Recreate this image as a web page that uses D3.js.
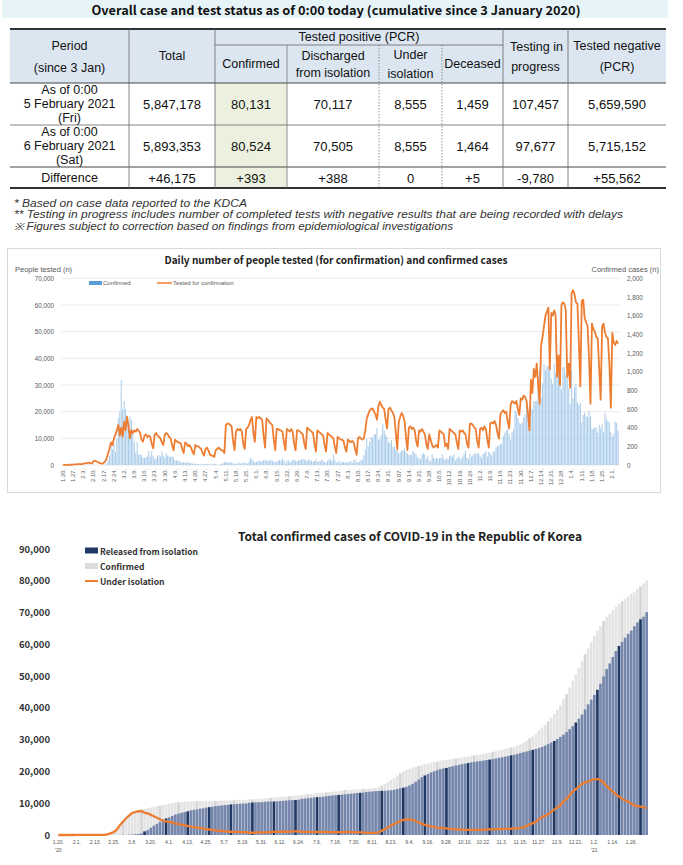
<!DOCTYPE html>
<html>
<head>
<meta charset="utf-8">
<script src="https://cdn.jsdelivr.net/npm/d3@7"></script>
<style>
body { margin: 0; background: #fff; }
svg { display: block; font-family: "Noto Sans CJK KR", "Noto Sans", sans-serif; }
</style>
</head>
<body>
<svg id="page" width="683" height="865"></svg>
<script>
// ---------------- table data ----------------
const tableTitle = "Overall case and test status as of 0:00 today (cumulative since 3 January 2020)";
const rowLabels = [["As of 0:00", "5 February 2021", "(Fri)"], ["As of 0:00", "6 February 2021", "(Sat)"], ["Difference"]];
const rowFeb5 = ["5,847,178", "80,131", "70,117", "8,555", "1,459", "107,457", "5,659,590"];
const rowFeb6 = ["5,893,353", "80,524", "70,505", "8,555", "1,464", "97,677", "5,715,152"];
const rowDiff = ["+46,175", "+393", "+388", "0", "+5", "-9,780", "+55,562"];
const footnotes = [
    " * Based on case data reported to the KDCA",
    "** Testing in progress includes number of completed tests with negative results that are being recorded with delays",
    " ※ Figures subject to correction based on findings from epidemiological investigations"
];

// ---------------- chart 1: daily, 2020-01-20 .. 2021-02-05 (one row per week, Mon..Sun) ----------------
const dailyConfirmed = [
    1,0,0,0,1,0,1, 1,0,0,2,5,1,3, 0,1,2,5,1,0,3, 0,1,0,0,0,0,1,
    1,1,20,53,100,229,169, 231,144,284,505,571,909,595, 686,600,516,438,518,483,367,
    248,131,242,114,110,107,76, 74,84,93,152,87,147,98, 64,76,100,104,91,146,105,
    78,125,101,89,86,94,81, 47,47,53,39,27,30,32, 25,27,27,22,22,18,8,
    13,9,11,8,6,10,10, 10,14,9,4,9,6,13, 8,3,2,4,12,18,34,
    35,27,26,29,27,19,13, 15,13,32,12,20,23,25, 16,19,40,79,58,39,27,
    35,38,49,39,39,51,57, 38,50,45,56,48,34,37, 34,43,59,49,67,48,17,
    46,51,28,39,51,62,42, 42,51,54,63,63,61,48, 44,62,50,45,35,44,62,
    33,39,39,60,39,34,26, 45,63,59,41,113,58,25, 28,48,18,36,31,30,23,
    34,33,43,20,54,56,28, 28,34,54,56,103,166,279, 197,246,297,288,324,332,397,
    266,280,320,441,371,323,299, 248,235,267,195,198,168,167, 119,136,156,155,176,136,121,
    109,106,113,153,126,110,82, 70,61,110,125,114,61,95, 50,38,113,77,63,75,64,
    73,75,114,69,54,72,58, 98,102,84,110,47,73,91, 76,58,89,121,155,77,61,
    119,88,103,125,114,127,124, 97,75,118,125,145,89,143, 126,100,146,143,191,205,208,
    223,230,313,343,363,386,330, 271,349,382,583,569,503,450, 438,451,511,540,629,583,631,
    615,594,686,682,689,950,1030, 718,880,1078,1014,1064,1060,1070, 926,869,1080,985,1080,1070,970,
    808,1045,1050,967,1029,824,657, 1020,714,838,869,674,641,665, 451,537,561,524,513,580,520,
    389,386,404,400,346,431,392, 437,349,559,497,469,458,355, 305,336,467,451,370
];

const dailyTested = [
    20,40,60,80,100,90,120, 150,200,250,300,350,300,350, 500,600,700,800,900,700,600,
    1500,1600,1300,1000,800,600,500, 800,1400,2500,4500,6300,8500,7500,
    10000,11500,13000,15000,11000,14000,10600, 16250,13000,18100,14500,10000,13100,12000,
    13000,12500,13500,12800,12000,9500,8750, 11000,11500,10500,11000,10500,8000,6250,
    11500,12000,11000,10500,10000,8500,7500, 11500,12000,11500,10500,10000,7500,5500,
    9500,9000,8500,8500,8000,6000,4500, 8500,8000,7000,7500,6500,5000,4000,
    7500,7000,7000,6500,6000,4500,3500, 6000,6500,5500,4000,3500,3500,3000,
    5500,6000,6500,6000,5500,5500,4500, 15000,15500,15500,15000,14500,9000,5600,
    12500,13500,13000,13500,12500,8000,6000, 13500,14000,15000,17000,18000,12000,8700,
    18000,17500,18000,17500,17000,11000,6500, 17500,17000,16000,15500,15000,9500,5600,
    13500,13500,13000,13000,12500,8500,5600, 13500,13000,12500,13500,12500,8000,5500,
    13000,13000,12500,12000,11500,8000,6000, 14000,13500,13000,12500,12000,8000,5000,
    13000,12500,12000,11500,11000,7500,5000, 12000,11500,11000,10500,10000,7000,4500,
    10500,10000,9500,9500,9000,6500,5000, 9500,9000,8500,9000,8500,6000,3800,
    10000,10500,10000,9500,10000,13000,17500, 19000,20500,21000,21250,20000,19000,17000,
    22000,23750,22500,21500,21000,17000,13750, 21000,21500,20500,19500,18000,12000,6000,
    16000,18000,19500,18500,16500,10500,5600, 14000,14500,13500,14000,13000,9000,6900,
    13000,12500,13500,12500,11500,8000,6000, 11500,9500,7500,6500,7000,7500,6500,
    13000,12500,12000,11500,7000,8000,6000, 13500,13000,12500,12000,11500,8500,6000,
    13000,12500,13000,12000,11500,8000,6500, 15500,15500,15000,14000,13500,9000,6500,
    13500,14000,13000,14500,13500,9500,6500, 15500,16000,15500,16500,15000,12000,9900,
    19000,20000,20500,19500,20000,16500,13750, 22500,24000,23500,23000,24000,21000,18750,
    25000,24500,26000,25500,24000,19000,13000, 32000,27000,36000,33000,38000,30000,23000,
    45000,48000,52000,56000,57500,59000,36000, 57000,56000,58000,56000,33000,41000,30000,
    60000,61000,60500,58000,33000,38000,29000, 64500,65500,64000,61000,60500,46000,29500,
    61500,62000,55000,53500,52000,40000,23000, 53000,51000,50000,48000,47500,36000,24500,
    52000,53000,49500,48000,47500,38000,21500, 49500,46000,45000,46500,45500
];

const weekTicks1 = ["1.20.","1.27.","2.3.","2.10.","2.17.","2.24.","3.2.","3.9.","3.16.","3.23.","3.30.",
    "4.6.","4.13.","4.20.","4.27.","5.4.","5.11.","5.18.","5.25.","6.1.","6.8.","6.15.","6.22.","6.29.",
    "7.6.","7.13.","7.20.","7.27.","8.3.","8.10.","8.17.","8.24.","8.31.","9.07.","9.14.","9.21.","9.28.",
    "10.5.","10.12.","10.19.","10.26.","11.2.","11.9.","11.16.","11.23.","11.30.","12.7.","12.14.","12.21.",
    "12.28.","1.4.","1.11.","1.18.","1.25.","2.1."];

// ---------------- chart 2: every second day, 2020-01-20 .. 2021-02-05 ----------------
const totalConfirmed = [
    1,1,2,3,4,6,12,15,18,24,27,28, 28,28,30,51,204,602,977,1766,3150,4212,5328,6284,
    7134,7513,7869,8086,8236,8413,8652,8897,9037,9241,9478,9661, 9887,10062,10237,10331,10423,10480,10537,10591,10635,10661,10683,10702,
    10718,10738,10761,10774,10793,10806,10810,10840,10909,10962,10991,11037, 11065,11110,11165,11206,11265,11402,11468,11541,11629,11719,11814,11902,
    12003,12085,12155,12257,12373,12438,12535,12602,12715,12800,12904,13030, 13137,13244,13338,13417,13512,13612,13711,13771,13879,14092,14175,14203,
    14269,14336,14389,14456,14519,14626,14660,14770,15039,15515,16058,16670, 17399,17945,18706,19400,19947,20449,20842,21177,21432,21743,22055,22285,
    22504,22783,22975,23106,23341,23516,23611,23812,23952,24091,24239,24422, 24548,24703,24889,25035,25199,25333,25543,25775,25955,26146,26385,26635,
    26807,27050,27284,27553,27799,28133,28546,28998,29654,30403,31004,31735, 32887,33824,34652,35703,36915,38161,39432,40786,42766,44364,46453,48570,
    50591,52550,54770,56872,58725,60740,62593,64264,65818,67358,68664,69651, 70728,71820,72729,73518,74262,75084,75870,76429,77395,78205,79200,80131
];
const releasedTotal = [
    0,0,0,0,0,0,0,0,2,2,3,4, 7,9,10,12,16,18,22,22,27,31,41,108,
    130,247,333,510,1137,1540,2233,2909,3507,4144,4811,5228, 5567,6021,6463,6694,6973,7243,7447,7757,7937,8042,8277,8411,
    8635,8764,8922,9072,9183,9283,9419,9484,9632,9695,9762,9851, 9904,9938,10135,10226,10275,10317,10340,10446,10506,10531,10552,10611,
    10718,10762,10856,10930,10970,11009,11109,11364,11476,11537,11684,11811, 11914,11970,12065,12204,12348,12422,12519,12610,12698,12817,12929,13007,
    13059,13233,13280,13352,13517,13642,13715,13817,13863,13901,13911,14006, 14063,14219,14461,14714,14900,15200,15600,16100,16750,17450,18200,18750,
    19200,19700,20050,20400,20700,20950,21100,21400,21650,21850,22050,22300, 22470,22650,22860,23000,23150,23270,23420,23590,23730,23880,24080,24300,
    24450,24650,24850,25080,25270,25520,25800,26050,26300,26550,26800,27050, 27350,27700,28100,28600,29100,29600,30200,30900,31600,32400,33300,34300,
    35400,36600,37900,39500,41100,42600,44100,45700,47600,49900,52200,54000, 56000,57900,59500,60800,62100,63300,64300,65700,66900,67900,68700,70117
];
const underIsolation = [
    1,1,2,3,4,6,12,15,16,22,24,24, 21,19,20,39,186,579,945,1731,3106,4159,5255,6134,
    6954,7212,7470,7504,7024,6789,6325,5884,5410,4966,4523,4275, 4155,3867,3591,3445,3246,3026,2873,2605,2466,2385,2169,2051,
    1843,1730,1593,1454,1360,1267,1135,1101,1021,1008,969,924, 898,909,764,711,721,816,857,823,850,915,989,1018,
    1008,1046,1019,1047,1122,1149,1144,956,956,981,936,936, 940,989,985,925,875,903,899,865,885,976,947,894,
    910,801,807,798,698,678,640,647,870,1309,1836,2350, 3018,3411,3932,4369,4724,4920,4906,4740,4340,3950,3500,3170,
    2940,2700,2530,2320,2250,2170,2100,2000,1880,1810,1760,1690, 1640,1610,1580,1590,1600,1610,1660,1720,1760,1800,1840,1870,
    1890,1920,1950,1990,2040,2110,2240,2440,2850,3340,3690,4170, 5000,5600,6025,6570,7270,7990,8680,9310,10580,11360,12520,13610,
    14480,15200,16090,16570,16780,17230,17560,17580,17200,16460,15400,14570, 13620,12800,12060,11470,10880,10460,9920,9340,9090,8900,8700,8555
];
const tickLabels2 = ["1.20.","2.1.","2.13.","2.25.","3.8.","3.20.","4.1.","4.13.","4.25.","5.7.","5.19.","5.31.",
    "6.12.","6.24.","7.6.","7.18.","7.30.","8.11.","8.23.","9.4.","9.16.","9.28.","10.10.","10.22.","11.3.",
    "11.15.","11.27.","12.9.","12.21.","1.2.","1.14.","1.26."];
const yearLabels2 = {"1.20.": "'20", "1.2.": "'21"};

const page = d3.select("#page");
const SANS = "'Liberation Sans', Arial, sans-serif";

function label(g, x, y, s, size, opts) {
    opts = opts || {};
    let t = g.append("text")
        .attr("x", x).attr("y", y)
        .attr("text-anchor", opts.anchor || "middle")
        .attr("dominant-baseline", "central")
        .attr("font-size", size)
        .attr("font-weight", opts.weight || "normal")
        .attr("fill", opts.fill || "#111")
        .text(s);
    if (opts.font) t.attr("font-family", opts.font);
    if (opts.italic) t.attr("font-style", "italic");
    if (opts.len) t.attr("textLength", opts.len).attr("lengthAdjust", "spacingAndGlyphs");
    return t;
}

// ================= table =================
const tbl = page.append("g");
tbl.append("rect").attr("x", 2).attr("y", 0).attr("width", 666).attr("height", 18).attr("fill", "#e6f3f7");
label(tbl, 336, 9, tableTitle, 12.5, {weight: "bold", len: 489});

const colX = [10, 129, 215, 287, 379, 442, 503, 568, 666];
const mid = i => (colX[i] + colX[i + 1]) / 2;
const yTop = 29, yHead1 = 45, yHead2 = 83, yRow1 = 125, yRow2 = 167, yBot = 188;

tbl.append("rect").attr("x", colX[0]).attr("y", yTop).attr("width", colX[8] - colX[0]).attr("height", yHead2 - yTop).attr("fill", "#dce6f1");
tbl.append("rect").attr("x", colX[2]).attr("y", yHead2).attr("width", colX[3] - colX[2]).attr("height", yBot - yHead2).attr("fill", "#ebf1de");

// lines
[[yTop, 1.8, "#333"], [yHead2, 1, "#444"], [yRow1, 0.8, "#666"], [yRow2, 1, "#444"], [yBot, 1.8, "#333"]].forEach(([y, w, c]) => {
    tbl.append("line").attr("x1", colX[0]).attr("x2", colX[8]).attr("y1", y).attr("y2", y).attr("stroke", c).attr("stroke-width", w);
});
tbl.append("line").attr("x1", colX[2]).attr("x2", colX[6]).attr("y1", yHead1).attr("y2", yHead1).attr("stroke", "#666").attr("stroke-width", 0.8);
[1, 2, 6, 7].forEach(i => {
    tbl.append("line").attr("x1", colX[i]).attr("x2", colX[i]).attr("y1", yTop).attr("y2", yBot).attr("stroke", "#666").attr("stroke-width", 0.8);
});
tbl.append("line").attr("x1", colX[3]).attr("x2", colX[3]).attr("y1", yHead1).attr("y2", yBot).attr("stroke", "#777").attr("stroke-width", 0.8);
[4, 5].forEach(i => {
    tbl.append("line").attr("x1", colX[i]).attr("x2", colX[i]).attr("y1", yHead1).attr("y2", yBot)
        .attr("stroke", "#777").attr("stroke-width", 0.8).attr("stroke-dasharray", "1.5,1.5");
});

// header text
const hd = {font: SANS};
label(tbl, mid(0), 46, "Period", 12.5, hd);
label(tbl, mid(0), 68, "(since 3 Jan)", 12.5, hd);
label(tbl, mid(1), 56, "Total", 12.5, hd);
label(tbl, (colX[2] + colX[6]) / 2, 37, "Tested positive (PCR)", 12.5, hd);
label(tbl, mid(2), 64, "Confirmed", 12.5, hd);
label(tbl, mid(3), 56, "Discharged", 12.5, hd);
label(tbl, mid(3), 73, "from isolation", 12.5, hd);
label(tbl, mid(4), 55, "Under", 12.5, hd);
label(tbl, mid(4), 74, "isolation", 12.5, hd);
label(tbl, mid(5), 64, "Deceased", 12.5, hd);
label(tbl, mid(6) + 1, 47, "Testing in", 12.5, hd);
label(tbl, mid(6), 67, "progress", 12.5, hd);
label(tbl, mid(7), 46, "Tested negative", 12.5, hd);
label(tbl, mid(7), 67, "(PCR)", 12.5, hd);

// body
const rowsY = [[90, 104, 118], [132, 146, 160], [178]];
[rowFeb5, rowFeb6, rowDiff].forEach((vals, r) => {
    rowLabels[r].forEach((s, k) => label(tbl, mid(0), rowsY[r][k], s, 12.5, hd));
    const vy = rowsY[r][Math.floor(rowsY[r].length / 2)];
    vals.forEach((v, c) => label(tbl, mid(c + 1), vy, v, 13, hd));
});

// footnotes
const footLen = [233, 609, 439];
footnotes.forEach((f, i) => {
    label(page, 14, 203 + i * 11.7, f, 10, {anchor: "start", italic: true, fill: "#333", len: footLen[i], font: SANS});
});

// ================= chart 1 =================
const c1 = page.append("g");
c1.append("rect").attr("x", 7.5).attr("y", 248.5).attr("width", 653).attr("height", 244)
    .attr("fill", "none").attr("stroke", "#d9d9d9");

const x1 = d3.scaleBand().domain(d3.range(dailyTested.length)).range([62.6, 618.6]).paddingInner(0.3);
const yTested = d3.scaleLinear().domain([0, 70000]).range([465, 278.3]);
const yConf = d3.scaleLinear().domain([0, 2000]).range([465, 278.3]);

c1.append("g").selectAll("line").data(yTested.ticks(7)).join("line")
    .attr("x1", 61.5).attr("x2", 620).attr("y1", d => yTested(d)).attr("y2", d => yTested(d))
    .attr("stroke", "#e4e4e4").attr("stroke-width", 0.8);

c1.append("g").selectAll("rect").data(dailyConfirmed).join("rect")
    .attr("x", (d, i) => x1(i)).attr("width", x1.bandwidth())
    .attr("y", d => yConf(d)).attr("height", d => yConf(0) - yConf(d))
    .attr("fill", "#a8cbea");

c1.append("path").datum(dailyTested)
    .attr("d", d3.line().x((d, i) => x1(i) + x1.bandwidth() / 2).y(d => yTested(d)))
    .attr("fill", "none").attr("stroke", "#ed7d31").attr("stroke-width", 1.8).attr("stroke-linejoin", "round");

const leftAxis = c1.append("g").attr("transform", "translate(54,0)")
    .call(d3.axisLeft(yTested).ticks(7).tickFormat(d3.format(",")).tickSize(0).tickPadding(0));
const rightAxis = c1.append("g").attr("transform", "translate(627,0)")
    .call(d3.axisRight(yConf).ticks(10).tickFormat(d3.format(",")).tickSize(0).tickPadding(0));
const bottomAxis = c1.append("g").attr("transform", "translate(0,467)")
    .call(d3.axisBottom(x1).tickValues(d3.range(0, dailyTested.length, 7)).tickFormat((d, i) => weekTicks1[i]).tickSize(0));
[leftAxis, rightAxis, bottomAxis].forEach(a => {
    a.select(".domain").remove();
    a.selectAll("text").attr("fill", "#595959").attr("font-size", 6.3).attr("font-family", SANS);
});
bottomAxis.selectAll("text").attr("transform", "rotate(-90)").attr("text-anchor", "end")
    .attr("x", -2).attr("y", 0).attr("dy", "0.32em").attr("font-size", 5.8);

label(c1, 336, 259.5, "Daily number of people tested (for confirmation) and confirmed cases", 10.5, {weight: "bold", fill: "#222", len: 343});
label(c1, 15, 269, "People tested (n)", 7.5, {anchor: "start", fill: "#595959", font: SANS});
label(c1, 659, 269, "Confirmed cases (n)", 7.5, {anchor: "end", fill: "#595959", font: SANS});
c1.append("rect").attr("x", 89).attr("y", 281).attr("width", 13).attr("height", 4).attr("fill", "#5b9bd5");
label(c1, 103, 283, "Confirmed", 6, {anchor: "start", fill: "#595959", font: SANS});
c1.append("line").attr("x1", 157).attr("x2", 172).attr("y1", 283).attr("y2", 283).attr("stroke", "#ed7d31").attr("stroke-width", 1.5);
label(c1, 173, 283, "Tested for confirmation", 6, {anchor: "start", fill: "#595959", font: SANS});

// ================= chart 2 =================
const c2 = page.append("g");
const sampleDays = d3.range(0, totalConfirmed.length * 2, 2);
const x2 = d3.scaleBand().domain(sampleDays).range([57, 648]).paddingInner(0.14);
const y2 = d3.scaleLinear().domain([0, 90000]).range([835, 549]);

c2.append("g").selectAll("rect").data(totalConfirmed).join("rect")
    .attr("x", (d, i) => x2(sampleDays[i])).attr("width", x2.bandwidth())
    .attr("y", d => y2(d)).attr("height", d => y2(0) - y2(d))
    .attr("fill", (d, i) => i % 6 === 3 ? "#d5d5d5" : "#e4e4e4");

c2.append("g").selectAll("rect").data(releasedTotal).join("rect")
    .attr("x", (d, i) => x2(sampleDays[i])).attr("width", x2.bandwidth())
    .attr("y", d => y2(d)).attr("height", d => y2(0) - y2(d))
    .attr("fill", (d, i) => i % 7 === 0 ? "#1f3864" : "#7586ad");

c2.append("path").datum(underIsolation)
    .attr("d", d3.line().curve(d3.curveMonotoneX).x((d, i) => x2(sampleDays[i]) + x2.bandwidth() / 2).y(d => y2(d)))
    .attr("fill", "none").attr("stroke", "#ed7d31").attr("stroke-width", 2.3).attr("stroke-linejoin", "round");

const yAxis2 = c2.append("g").attr("transform", "translate(50,0)")
    .call(d3.axisLeft(y2).ticks(9).tickFormat(d3.format(",")).tickSize(0).tickPadding(0));
yAxis2.select(".domain").remove();
yAxis2.selectAll("text").attr("fill", "#333").attr("font-size", 9.5).attr("font-weight", "bold").attr("font-family", "Noto Sans CJK KR");

const xAxis2 = c2.append("g").attr("transform", "translate(0,838)")
    .call(d3.axisBottom(x2).tickValues(d3.range(0, 383, 12)).tickFormat((d, i) => tickLabels2[i]).tickSize(0).tickPadding(2));
xAxis2.select(".domain").remove();
xAxis2.selectAll("text").attr("fill", "#555").attr("font-size", 5).attr("font-family", SANS);
xAxis2.selectAll(".tick").filter((d, i) => yearLabels2[tickLabels2[i]])
    .append("text").attr("y", 10.5).attr("dy", "0.71em").attr("fill", "#555").attr("font-size", 5).attr("font-family", SANS)
    .text((d) => yearLabels2[tickLabels2[d / 12]]);

label(c2, 410, 535, "Total confirmed cases of COVID-19 in the Republic of Korea", 12, {weight: "bold", fill: "#222", len: 344});
c2.append("rect").attr("x", 85).attr("y", 547.5).attr("width", 13).attr("height", 6).attr("fill", "#1f3864");
label(c2, 100, 550.5, "Released from isolation", 8.5, {anchor: "start", weight: "bold", fill: "#333", len: 98});
c2.append("rect").attr("x", 85).attr("y", 563).attr("width", 13).attr("height", 6).attr("fill", "#dcdcdc");
label(c2, 100, 566, "Confirmed", 8.5, {anchor: "start", weight: "bold", fill: "#333"});
c2.append("line").attr("x1", 85).attr("x2", 98).attr("y1", 581).attr("y2", 581).attr("stroke", "#ed7d31").attr("stroke-width", 2);
label(c2, 100, 581, "Under isolation", 8.5, {anchor: "start", weight: "bold", fill: "#333"});
</script>
</body>
</html>
